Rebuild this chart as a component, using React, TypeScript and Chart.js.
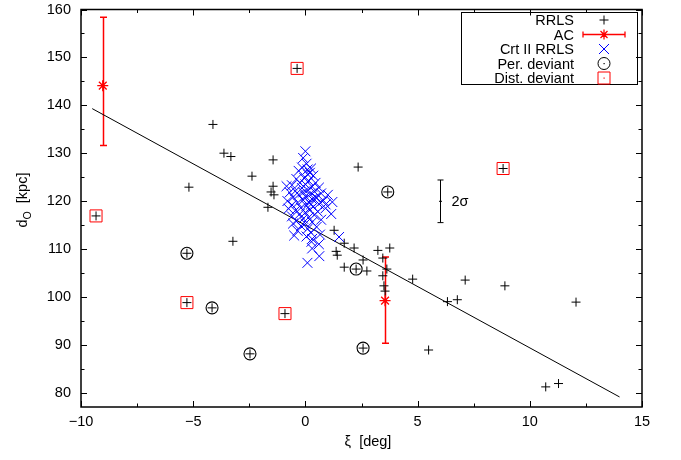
import React, { useEffect, useRef } from 'react';
import { Chart, registerables } from 'chart.js';

Chart.register(...registerables);

// ---------- data ----------
const rrlsX = [-4.12, -3.63, -3.32, -2.38, -1.44, -5.19, -1.44, -1.53, -1.40, -1.67, -3.23, 2.35, 1.28, 1.37, 1.42, 1.73, 2.17, 3.23, 3.76, 2.57, 1.73, 2.74, 3.45, 3.63, 3.45, 3.50, 3.55, 4.78, 7.12, 8.89, 6.33, 6.77, 5.49, 12.06, 10.71, 11.28,
  -5.28, -4.16, -2.47, 3.67, 2.26, 2.57,
  -9.33, -5.28, -0.91, -0.37, 8.81];
const rrlsY = [136.0, 130.0, 129.3, 125.2, 128.6, 122.9, 123.1, 121.9, 121.3, 118.7, 111.6, 127.1, 113.9, 109.5, 108.7, 111.2, 110.2, 109.7, 110.2, 107.7, 106.2, 105.4, 108.1, 105.8, 104.4, 102.3, 101.2, 103.7, 103.5, 102.3, 99.0, 99.4, 88.9, 98.9, 81.2, 81.9,
  109.1, 97.7, 88.1, 121.9, 105.8, 89.3,
  116.9, 98.8, 96.5, 147.7, 126.8];

const acX = [-9.03, 3.55];
const acY = [144.1, 99.2];
const acLo = [131.6, 90.3];
const acHi = [158.4, 108.3];

const crtX = [0.0, -0.1, 0.05, -0.15, 0.25, 0.2, -0.3, 0.1, -0.05, 0.35, -0.4, 0.15, 0.45, -0.25, 0.0, -0.6, -0.84, 0.3, 0.6, -0.15,
  0.1, -0.45, 0.4, -0.7, 0.7, 0.2, -0.3, 0.0, -0.55, 0.5, 0.3, -0.1, -0.8, 0.8, 0.15, -0.35, 0.6, -0.6, 0.05, 0.35,
  -0.2, -0.75, 0.9, 0.2, -0.45, 0.55, 0.0, -0.25, 1.15, 0.4, -0.6, 0.15, -0.1, 0.7, -0.4, 0.3, 0.0, -0.2, 0.5, 0.1,
  -0.35, 0.25, 0.65, 0.05, 1.5, 0.3, 0.27, 0.6, 0.3, 0.62, 0.09, -0.5, -0.55, 1.0, 0.9, 1.2, 0.1, -0.1, 0.25, 0.45];
const crtY = [130.4, 129.0, 127.8, 127.0, 126.8, 125.9, 126.3, 125.6, 124.8, 125.3, 124.6, 124.2, 123.8, 123.8, 123.5, 123.3, 123.1, 123.0, 122.8, 122.7,
  122.3, 122.1, 122.0, 121.8, 121.6, 121.4, 121.3, 121.0, 120.8, 120.7, 120.4, 120.2, 120.0, 120.1, 119.8, 119.6, 119.4, 119.2, 119.0, 118.8,
  118.6, 118.4, 118.5, 118.2, 118.0, 117.8, 117.6, 117.3, 117.3, 117.1, 116.8, 116.6, 116.3, 116.1, 115.8, 115.6, 115.3, 114.8, 114.6, 114.2,
  113.8, 113.4, 113.0, 112.6, 112.5, 112.1, 111.5, 111.0, 110.1, 108.5, 107.1, 112.8, 115.3, 121.3, 119.3, 119.8, 126.6, 121.8, 119.3, 120.8];

const perX = [-5.28, -4.16, -2.47, 3.67, 2.26, 2.57];
const perY = [109.1, 97.7, 88.1, 121.9, 105.8, 89.3];

const distX = [-9.33, -5.28, -0.91, -0.37, 8.81];
const distY = [116.9, 98.8, 96.5, 147.7, 126.8];

const fitX = [-9.5, 14.0];
const fitY = [139.3, 79.1];

const sigmaX = [6.0];
const sigmaY = [119.95];
const sigmaHalf = [4.45];

const xMin = -10, xMax = 15, xStep = 5, xMinor = 2.5;
const yMin = 77, yMax = 160, yStep = 10, yMinor = 5, yFirstTick = 80;

const legendLabels = ['RRLS', 'AC', 'Crt II RRLS', 'Per. deviant', 'Dist. deviant'];

const RED = '#ff0000';
const BLUE = '#0000ff';
const FONT = "'Liberation Sans', Arial, sans-serif";

const zip = (xs: number[], ys: number[]) => xs.map((x, i) => ({ x, y: ys[i] }));

const drawPlus = (ctx: CanvasRenderingContext2D, x: number, y: number, r: number) => {
  ctx.moveTo(x - r, y); ctx.lineTo(x + r, y);
  ctx.moveTo(x, y - r); ctx.lineTo(x, y + r);
};
const drawX = (ctx: CanvasRenderingContext2D, x: number, y: number, r: number) => {
  ctx.moveTo(x - r, y - r); ctx.lineTo(x + r, y + r);
  ctx.moveTo(x - r, y + r); ctx.lineTo(x + r, y - r);
};

const decorPlugin = {
  id: 'decor',
  beforeDatasetsDraw(chart: any) {
    const ctx = chart.ctx as CanvasRenderingContext2D;
    const xs = chart.scales.x, ys = chart.scales.y;
    ctx.save();
    ctx.strokeStyle = RED;
    ctx.lineWidth = 1.5;
    ctx.beginPath();
    for (let i = 0; i < acX.length; i++) {
      const px = Math.round(xs.getPixelForValue(acX[i])) + 0.5;
      const lo = ys.getPixelForValue(acLo[i]);
      const hi = ys.getPixelForValue(acHi[i]);
      ctx.moveTo(px, lo); ctx.lineTo(px, hi);
      ctx.moveTo(px - 3.5, lo); ctx.lineTo(px + 3.5, lo);
      ctx.moveTo(px - 3.5, hi); ctx.lineTo(px + 3.5, hi);
    }
    ctx.stroke();
    ctx.restore();
  },
  afterDraw(chart: any) {
    const ctx = chart.ctx as CanvasRenderingContext2D;
    const xs = chart.scales.x, ys = chart.scales.y;
    const a = chart.chartArea;
    ctx.save();
    // frame
    ctx.strokeStyle = '#000';
    ctx.lineWidth = 1.5;
    ctx.strokeRect(a.left, a.top, a.right - a.left, a.bottom - a.top);
    // ticks
    ctx.lineWidth = 1;
    ctx.beginPath();
    for (let v = xMin; v <= xMax + 1e-9; v += xMinor) {
      const major = Math.abs(v / xStep - Math.round(v / xStep)) < 1e-6;
      const len = major ? 6 : 3.5;
      const px = Math.round(xs.getPixelForValue(v)) + 0.5;
      ctx.moveTo(px, a.bottom); ctx.lineTo(px, a.bottom - len);
      ctx.moveTo(px, a.top); ctx.lineTo(px, a.top + len);
    }
    for (let v = yFirstTick; v <= yMax + 1e-9; v += yMinor) {
      const major = Math.abs(v / yStep - Math.round(v / yStep)) < 1e-6;
      const len = major ? 6 : 3.5;
      const py = Math.round(ys.getPixelForValue(v)) + 0.5;
      ctx.moveTo(a.left, py); ctx.lineTo(a.left + len, py);
      ctx.moveTo(a.right, py); ctx.lineTo(a.right - len, py);
    }
    ctx.stroke();

    // 2 sigma bar
    ctx.beginPath();
    for (let i = 0; i < sigmaX.length; i++) {
      const px = Math.round(xs.getPixelForValue(sigmaX[i])) + 0.5;
      const top = ys.getPixelForValue(sigmaY[i] + sigmaHalf[i]);
      const bot = ys.getPixelForValue(sigmaY[i] - sigmaHalf[i]);
      const mid = ys.getPixelForValue(sigmaY[i]);
      ctx.moveTo(px, top); ctx.lineTo(px, bot);
      ctx.moveTo(px - 3, top); ctx.lineTo(px + 3, top);
      ctx.moveTo(px - 3, bot); ctx.lineTo(px + 3, bot);
      ctx.moveTo(px - 1.5, mid); ctx.lineTo(px + 1.5, mid);
      ctx.stroke();
      ctx.fillStyle = '#000';
      ctx.font = `14.5px ${FONT}`;
      ctx.textAlign = 'left';
      ctx.textBaseline = 'middle';
      ctx.fillText('2σ', px + 11, mid + 1);
    }

    // legend
    const bx = 461, by = 12, bw = 176, bh = 72;
    ctx.lineWidth = 1;
    ctx.strokeStyle = '#000';
    ctx.strokeRect(bx + 0.5, by + 0.5, bw, bh);
    ctx.font = `14.5px ${FONT}`;
    ctx.textAlign = 'right';
    ctx.textBaseline = 'middle';
    ctx.fillStyle = '#000';
    const mx = 604;
    legendLabels.forEach((lab, i) => {
      const ry = 20 + i * 14.5;
      ctx.fillText(lab, 574, ry + 1);
      ctx.beginPath();
      if (i === 0) {
        ctx.strokeStyle = '#000';
        drawPlus(ctx, mx, ry, 4.5);
        ctx.stroke();
      } else if (i === 1) {
        ctx.strokeStyle = RED;
        ctx.lineWidth = 1.3;
        ctx.moveTo(583, ry); ctx.lineTo(625, ry);
        ctx.moveTo(583, ry - 3); ctx.lineTo(583, ry + 3);
        ctx.moveTo(625, ry - 3); ctx.lineTo(625, ry + 3);
        drawPlus(ctx, mx, ry, 5);
        drawX(ctx, mx, ry, 3.5);
        ctx.stroke();
        ctx.lineWidth = 1;
      } else if (i === 2) {
        ctx.strokeStyle = BLUE;
        drawX(ctx, mx, ry, 5);
        ctx.stroke();
      } else if (i === 3) {
        ctx.strokeStyle = '#000';
        ctx.arc(mx, ry, 6, 0, Math.PI * 2);
        ctx.stroke();
        ctx.fillStyle = '#000';
        ctx.fillRect(mx - 0.5, ry - 0.5, 1.2, 1.2);
      } else {
        ctx.strokeStyle = RED;
        ctx.rect(mx - 6, ry - 6, 12, 12);
        ctx.stroke();
        ctx.fillStyle = RED;
        ctx.fillRect(mx - 0.5, ry - 0.5, 1.2, 1.2);
      }
    });

    // axis titles
    ctx.fillStyle = '#000';
    ctx.textBaseline = 'alphabetic';
    ctx.font = `14.5px ${FONT}`;
    ctx.textAlign = 'center';
    ctx.fillText('ξ  [deg]', 368, 446);

    ctx.save();
    ctx.translate(27, 200);
    ctx.rotate(-Math.PI / 2);
    ctx.textAlign = 'left';
    const p1 = 'd';
    const p2 = 'O';
    const p3 = '  [kpc]';
    ctx.font = `14.5px ${FONT}`;
    const w1 = ctx.measureText(p1).width;
    const w3 = ctx.measureText(p3).width;
    ctx.font = `10.5px ${FONT}`;
    const w2 = ctx.measureText(p2).width;
    const total = w1 + w2 + w3;
    let cx = -total / 2;
    ctx.font = `14.5px ${FONT}`;
    ctx.fillText(p1, cx, 0);
    cx += w1;
    ctx.font = `10.5px ${FONT}`;
    ctx.fillText(p2, cx, 3.5);
    cx += w2;
    ctx.font = `14.5px ${FONT}`;
    ctx.fillText(p3, cx, 0);
    ctx.restore();

    ctx.restore();
  },
};

export default function App() {
  const ref = useRef<HTMLCanvasElement | null>(null);
  useEffect(() => {
    document.body.style.margin = '0';
    const canvas = ref.current!;
    const chart = new Chart(canvas, {
      type: 'scatter',
      data: {
        datasets: [
          {
            label: 'fit',
            data: zip(fitX, fitY),
            showLine: true,
            borderColor: '#000',
            borderWidth: 1,
            pointRadius: 0,
            order: 6,
          } as any,
          {
            label: 'RRLS',
            data: zip(rrlsX, rrlsY),
            pointStyle: 'cross',
            pointRadius: 4.5,
            borderColor: '#000',
            pointBorderWidth: 1,
            order: 5,
          },
          {
            label: 'Crt II RRLS',
            data: zip(crtX, crtY),
            pointStyle: 'crossRot',
            pointRadius: 7,
            borderColor: BLUE,
            pointBorderWidth: 1,
            order: 4,
          },
          {
            label: 'AC',
            data: zip(acX, acY),
            pointStyle: 'star',
            pointRadius: 5.5,
            borderColor: RED,
            pointBorderWidth: 1.3,
            order: 3,
          },
          {
            label: 'Per. deviant',
            data: zip(perX, perY),
            pointStyle: 'circle',
            pointRadius: 6,
            borderColor: '#000',
            backgroundColor: 'rgba(0,0,0,0)',
            pointBorderWidth: 1.1,
            order: 2,
          },
          {
            label: 'Dist. deviant',
            data: zip(distX, distY),
            pointStyle: 'rect',
            pointRadius: 8.5,
            borderColor: RED,
            backgroundColor: 'rgba(0,0,0,0)',
            pointBorderWidth: 1,
            order: 1,
          },
        ],
      },
      options: {
        responsive: false,
        animation: false,
        events: [],
        layout: { padding: { top: 6, right: 39, left: 0, bottom: 0 } },
        plugins: { legend: { display: false }, tooltip: { enabled: false } },
        scales: {
          x: {
            type: 'linear',
            min: xMin,
            max: xMax,
            afterFit: (s: any) => { s.height = 53; s.paddingLeft = 0; s.paddingRight = 0; },
            grid: { display: false, drawTicks: false },
            border: { display: false },
            ticks: {
              stepSize: xStep,
              padding: 6,
              color: '#000',
              font: { family: FONT, size: 14.5 },
              callback: (v: any) => String(v).replace('-', '\u2212'),
            },
          },
          y: {
            type: 'linear',
            min: yMin,
            max: yMax,
            afterFit: (s: any) => { s.width = 81; s.paddingTop = 0; s.paddingBottom = 0; },
            grid: { display: false, drawTicks: false },
            border: { display: false },
            afterBuildTicks: (s: any) => {
              s.ticks = s.ticks.filter((t: any) => t.value >= yFirstTick && Math.abs(t.value % yStep) < 1e-6);
            },
            ticks: {
              stepSize: yStep,
              padding: 10,
              color: '#000',
              font: { family: FONT, size: 14.5, lineHeight: 0.7 },
              callback: (v: any) => String(v).replace('-', '\u2212'),
            },
          },
        },
      },
      plugins: [decorPlugin],
    });
    return () => chart.destroy();
  }, []);
  return (
    <div style={{ width: 681, height: 460 }}>
      <canvas ref={ref} width={681} height={460} style={{ display: 'block' }} />
    </div>
  );
}
